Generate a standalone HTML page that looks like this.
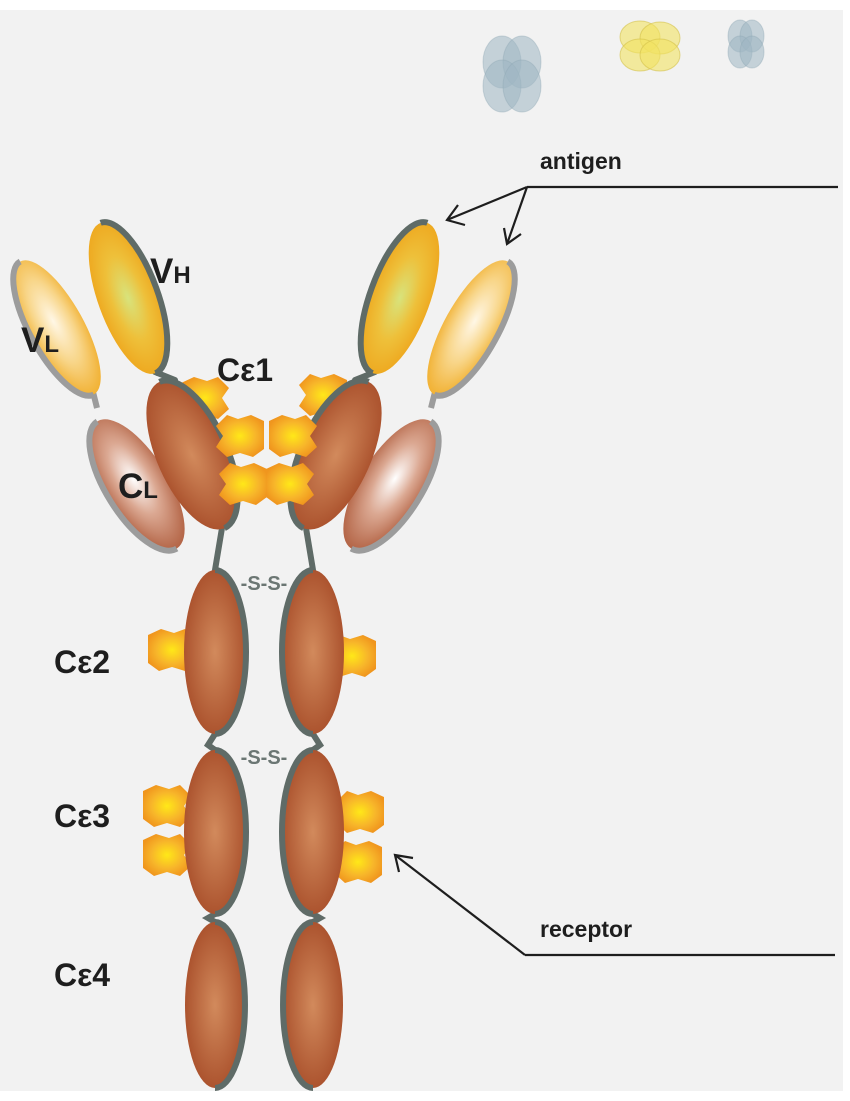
<!DOCTYPE html>
<html><head><meta charset="utf-8"><style>
html,body{margin:0;padding:0;background:#fff;}
svg{display:block;}
text{font-family:"Liberation Sans",Arial,sans-serif;font-weight:bold;fill:#1e1e1e;}
</style></head><body>
<svg width="850" height="1101" viewBox="0 0 850 1101" xmlns="http://www.w3.org/2000/svg">
<defs>
<radialGradient id="vh" cx="50%" cy="50%" r="55%"><stop offset="0" stop-color="#d8e37c"/><stop offset="0.5" stop-color="#eec03a"/><stop offset="1" stop-color="#eea51c"/></radialGradient>
<radialGradient id="vl" cx="50%" cy="45%" r="60%"><stop offset="0" stop-color="#fff7e6"/><stop offset="0.5" stop-color="#f8d68a"/><stop offset="1" stop-color="#f0aa22"/></radialGradient>
<radialGradient id="cl" cx="50%" cy="45%" r="60%"><stop offset="0" stop-color="#ffffff"/><stop offset="0.45" stop-color="#dba892"/><stop offset="1" stop-color="#ac5838"/></radialGradient>
<radialGradient id="ce" cx="50%" cy="50%" r="55%"><stop offset="0" stop-color="#d28a5c"/><stop offset="1" stop-color="#a84e2a"/></radialGradient>
<radialGradient id="bl" cx="50%" cy="50%" r="55%"><stop offset="0" stop-color="#ffe818"/><stop offset="0.6" stop-color="#f7b52a"/><stop offset="1" stop-color="#f0961e"/></radialGradient>
<path id="blob" d="M-24,-15 L-11,-21 L2,-17 L13,-21 L24,-10 L17,0 L24,11 L13,21 L0,17 L-13,21 L-24,13 Z" fill="url(#bl)"/>
</defs>
<rect x="0" y="0" width="850" height="1101" fill="#ffffff"/>
<rect x="0" y="10" width="843" height="1081" fill="#f2f2f2"/>

<!-- antigens -->
<g fill="#9fb6c2" fill-opacity="0.55" stroke="#8fa7b4" stroke-opacity="0.4">
<ellipse cx="502" cy="62" rx="19" ry="26"/>
<ellipse cx="522" cy="62" rx="19" ry="26"/>
<ellipse cx="502" cy="86" rx="19" ry="26"/>
<ellipse cx="522" cy="86" rx="19" ry="26"/>
<ellipse cx="740" cy="36" rx="12" ry="16"/>
<ellipse cx="752" cy="36" rx="12" ry="16"/>
<ellipse cx="740" cy="52" rx="12" ry="16"/>
<ellipse cx="752" cy="52" rx="12" ry="16"/>
</g>
<g fill="#f1e262" fill-opacity="0.6" stroke="#d4c24a" stroke-opacity="0.6">
<ellipse cx="640" cy="37" rx="20" ry="16"/>
<ellipse cx="660" cy="38" rx="20" ry="16"/>
<ellipse cx="640" cy="55" rx="20" ry="16"/>
<ellipse cx="660" cy="55" rx="20" ry="16"/>
</g>

<!-- hinge / linker lines -->
<g stroke="#5f6b67" stroke-width="6" fill="none" stroke-linecap="round">
<path d="M155,372 L175,380"/>
<path d="M375,372 L355,380"/>
<path d="M222,528 L215,570"/>
<path d="M306,528 L313,570"/>
<path d="M215,734 L208,745 L215,750"/>
<path d="M313,734 L320,745 L313,750"/>
<path d="M215,914 L208,918 L215,922"/>
<path d="M313,914 L320,918 L313,922"/>
</g>
<g stroke="#9c9c9c" stroke-width="6" fill="none">
<path d="M93,392 L97,408"/>
<path d="M435,392 L431,408"/>
</g>

<!-- blobs behind -->
<use href="#blob" transform="translate(205,398)"/>
<use href="#blob" transform="translate(323,395) scale(-1,1)"/>
<use href="#blob" transform="translate(172,650)"/>
<use href="#blob" transform="translate(352,656) scale(-1,1)"/>
<use href="#blob" transform="translate(167,806)"/>
<use href="#blob" transform="translate(167,855)"/>
<use href="#blob" transform="translate(360,812) scale(-1,1)"/>
<use href="#blob" transform="translate(358,862) scale(-1,1)"/>

<!-- left arm -->
<g transform="translate(57,328) rotate(-29)"><ellipse rx="27" ry="76" fill="url(#vl)"/><path d="M0,-76 A27,76 0 0 0 0,76" stroke="#9c9c9c" stroke-width="6" fill="none"/></g>
<g transform="translate(128,298) rotate(-20)"><ellipse rx="30" ry="80" fill="url(#vh)"/><path d="M0,-80 A30,80 0 0 1 0,80" stroke="#5f6b67" stroke-width="6" fill="none"/></g>
<g transform="translate(137,485) rotate(-32)"><ellipse rx="31" ry="75" fill="url(#cl)"/><path d="M0,-75 A31,75 0 0 0 0,75" stroke="#9c9c9c" stroke-width="6" fill="none"/></g>
<g transform="translate(192,455) rotate(-24)"><ellipse rx="35" ry="80" fill="url(#ce)"/><path d="M0,-80 A35,80 0 0 1 0,80" stroke="#5f6b67" stroke-width="6" fill="none"/></g>
<!-- right arm -->
<g transform="translate(471,328) rotate(29)"><ellipse rx="27" ry="76" fill="url(#vl)"/><path d="M0,-76 A27,76 0 0 1 0,76" stroke="#9c9c9c" stroke-width="6" fill="none"/></g>
<g transform="translate(400,298) rotate(20)"><ellipse rx="30" ry="80" fill="url(#vh)"/><path d="M0,-80 A30,80 0 0 0 0,80" stroke="#5f6b67" stroke-width="6" fill="none"/></g>
<g transform="translate(391,485) rotate(32)"><ellipse rx="31" ry="75" fill="url(#cl)"/><path d="M0,-75 A31,75 0 0 1 0,75" stroke="#9c9c9c" stroke-width="6" fill="none"/></g>
<g transform="translate(336,455) rotate(24)"><ellipse rx="35" ry="80" fill="url(#ce)"/><path d="M0,-80 A35,80 0 0 0 0,80" stroke="#5f6b67" stroke-width="6" fill="none"/></g>

<!-- Fc domains -->
<g>
<ellipse cx="215" cy="652" rx="31" ry="82" fill="url(#ce)"/><path d="M215,570 A31,82 0 0 1 215,734" stroke="#5f6b67" stroke-width="6" fill="none"/>
<ellipse cx="313" cy="652" rx="31" ry="82" fill="url(#ce)"/><path d="M313,570 A31,82 0 0 0 313,734" stroke="#5f6b67" stroke-width="6" fill="none"/>
<ellipse cx="215" cy="832" rx="31" ry="82" fill="url(#ce)"/><path d="M215,750 A31,82 0 0 1 215,914" stroke="#5f6b67" stroke-width="6" fill="none"/>
<ellipse cx="313" cy="832" rx="31" ry="82" fill="url(#ce)"/><path d="M313,750 A31,82 0 0 0 313,914" stroke="#5f6b67" stroke-width="6" fill="none"/>
<ellipse cx="215" cy="1005" rx="30" ry="83" fill="url(#ce)"/><path d="M215,922 A30,83 0 0 1 215,1088" stroke="#5f6b67" stroke-width="6" fill="none"/>
<ellipse cx="313" cy="1005" rx="30" ry="83" fill="url(#ce)"/><path d="M313,922 A30,83 0 0 0 313,1088" stroke="#5f6b67" stroke-width="6" fill="none"/>
</g>

<!-- central blobs -->
<use href="#blob" transform="translate(240,436) scale(-1,1)"/>
<use href="#blob" transform="translate(243,484) scale(-1,1)"/>
<use href="#blob" transform="translate(293,436)"/>
<use href="#blob" transform="translate(290,484)"/>

<!-- S-S -->
<text x="264" y="590" font-size="20" text-anchor="middle" style="fill:#6b7673">-S-S-</text>
<text x="264" y="764" font-size="20" text-anchor="middle" style="fill:#6b7673">-S-S-</text>

<!-- labels -->
<text x="150" y="283" font-size="35">V<tspan font-size="24">H</tspan></text>
<text x="21" y="352" font-size="35">V<tspan font-size="24">L</tspan></text>
<text x="118" y="498" font-size="35">C<tspan font-size="24">L</tspan></text>
<text x="217" y="381" font-size="32">Cε1</text>
<text x="54" y="673" font-size="32">Cε2</text>
<text x="54" y="827" font-size="32">Cε3</text>
<text x="54" y="986" font-size="32">Cε4</text>
<text x="540" y="169" font-size="23">antigen</text>
<text x="540" y="937" font-size="23">receptor</text>

<!-- arrows -->
<g stroke="#1e1e1e" stroke-width="2.2" fill="none">
<path d="M527,187 L838,187"/>
<path d="M527,187 L447,220"/>
<path d="M527,187 L507,244"/>
<path d="M458,205 L447,220 L465,225"/>
<path d="M504,228 L507,244 L521,234"/>
<path d="M525,955 L835,955"/>
<path d="M525,955 L395,855"/>
<path d="M399,872 L395,855 L413,858"/>
</g>
</svg>
</body></html>
